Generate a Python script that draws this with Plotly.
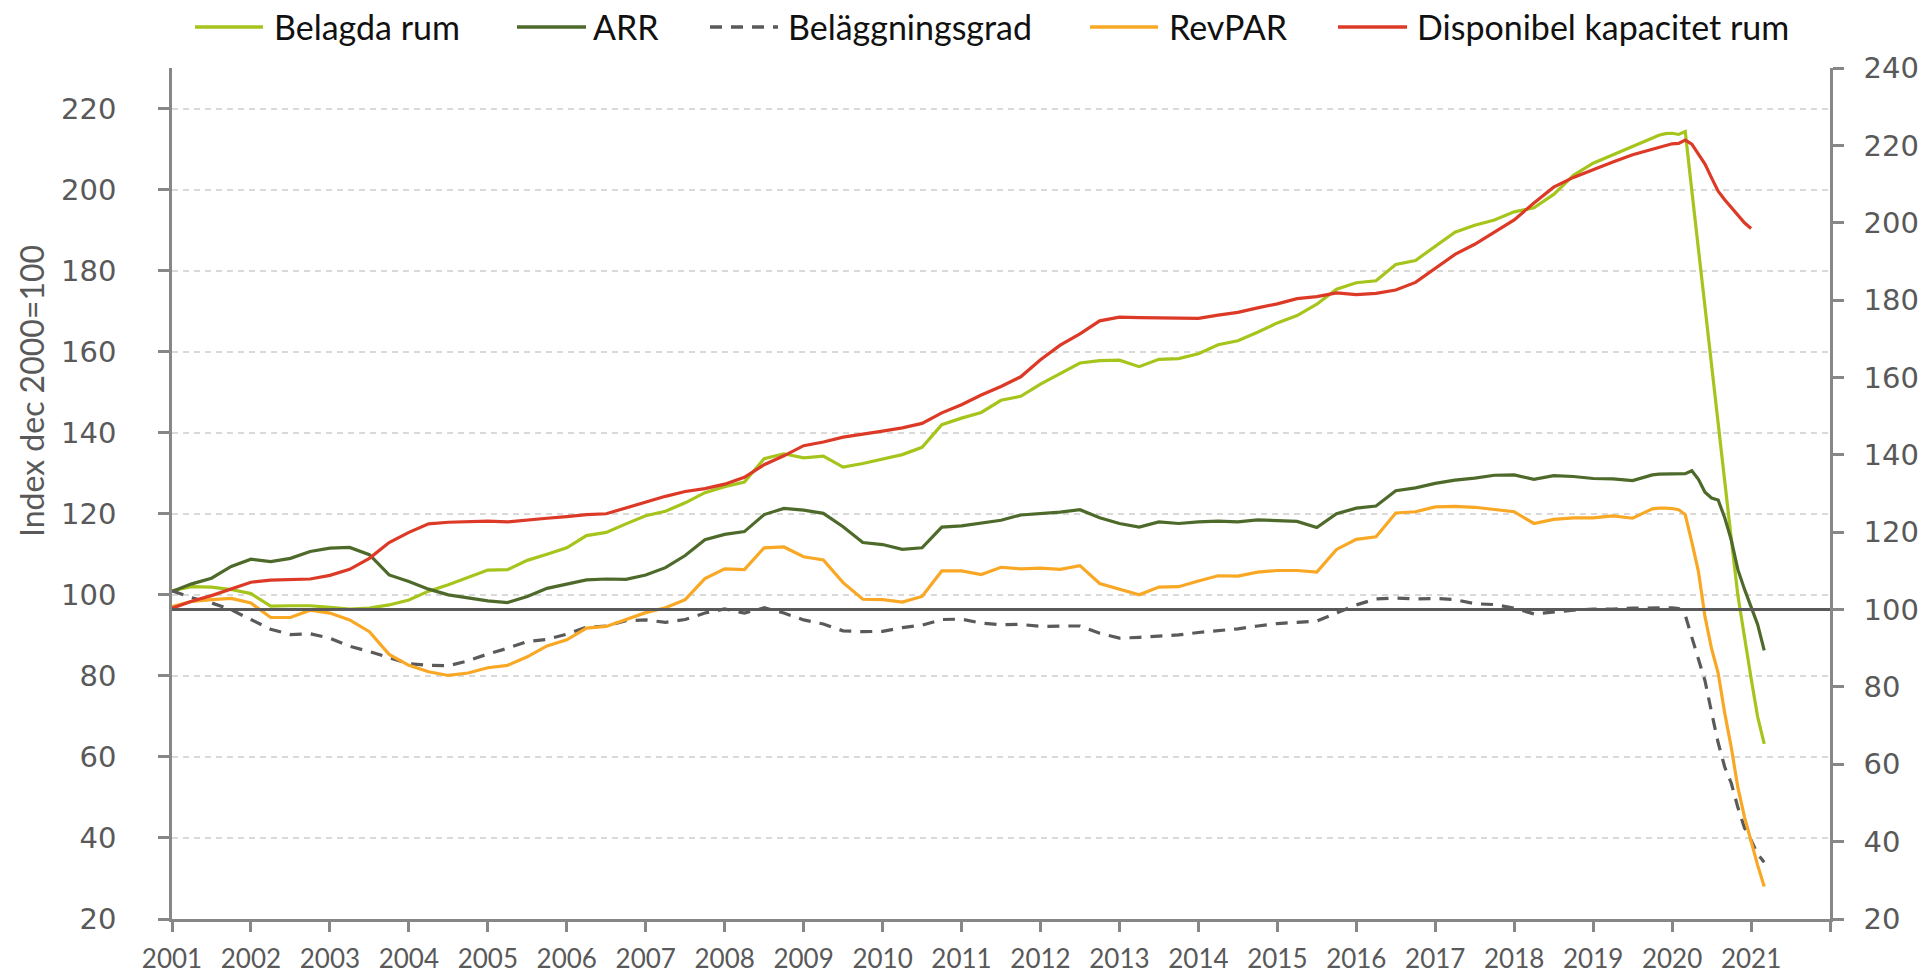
import plotly.graph_objects as go

# ---------------- data (index dec 2000 = 100) ----------------
months = [f"{y}-{m:02d}" for y in range(2001, 2020) for m in (1, 4, 7, 10)] + [
    "2019-11", "2019-12", "2020-01", "2020-02", "2020-03", "2020-04", "2020-05",
    "2020-06", "2020-07", "2020-08", "2020-09", "2020-10", "2020-11", "2020-12",
    "2021-01", "2021-02", "2021-03"]

belagda_rum = [
    101.0, 102.0, 101.9, 101.3, 100.3, 97.2, 97.3, 97.3, 96.9, 96.5, 96.7, 97.5,
    98.7, 100.9, 102.5, 104.4, 106.1, 106.2, 108.5, 110.0, 111.6, 114.6, 115.4, 117.5,
    119.5, 120.6, 122.7, 125.2, 126.7, 127.8, 133.6, 134.8, 133.8, 134.2, 131.5, 132.4,
    133.5, 134.6, 136.4, 142.0, 143.6, 145.0, 148.0, 149.0, 152.0, 154.5, 157.2, 157.8,
    157.9, 156.3, 158.1, 158.3, 159.5, 161.7, 162.7, 164.8, 167.1, 168.9, 171.7, 175.4,
    177.0, 177.5, 181.5, 182.5, 186.0, 189.5, 191.2, 192.5, 194.5, 195.5, 198.8, 203.5,
    206.5, 208.6, 210.6, 212.7,
    213.4, 213.8, 213.9, 213.6, 214.3, 199.7, 185.1, 171.2, 156.6, 142.0, 127.5, 113.7,
    99.8, 89.3, 79.5, 69.9, 63.2]

arr = [
    100.8, 102.7, 104.1, 107.0, 108.8, 108.2, 109.0, 110.7, 111.5, 111.7, 109.9, 104.9,
    103.3, 101.4, 100.0, 99.2, 98.5, 98.1, 99.6, 101.6, 102.7, 103.7, 103.9, 103.8,
    104.9, 106.7, 109.7, 113.6, 114.9, 115.6, 119.8, 121.3, 120.9, 120.1, 116.8, 112.9,
    112.4, 111.2, 111.6, 116.7, 117.0, 117.7, 118.4, 119.7, 120.0, 120.4, 121.0, 119.0,
    117.6, 116.7, 118.0, 117.6, 118.0, 118.2, 118.0, 118.5, 118.3, 118.1, 116.6, 120.0,
    121.4, 121.9, 125.7, 126.4, 127.5, 128.3, 128.8, 129.5, 129.6, 128.5, 129.4, 129.2,
    128.7, 128.6, 128.2, 129.6,
    129.8, 129.8, 129.8, 129.8, 129.9, 130.6, 128.5, 125.3, 123.9, 123.4, 119.0, 113.5,
    106.2, 101.4, 97.2, 92.7, 86.3]

belaggningsgrad = [
    101.0, 99.3, 98.0, 96.3, 93.9, 91.5, 90.2, 90.4, 89.3, 87.3, 86.0, 84.5,
    83.0, 82.6, 82.5, 83.7, 85.4, 86.8, 88.5, 89.0, 90.3, 92.0, 92.3, 93.6,
    93.8, 93.2, 93.9, 95.5, 96.5, 95.5, 96.8, 95.5, 93.8, 92.8, 91.1, 90.9,
    91.0, 91.9, 92.5, 93.9, 94.0, 93.0, 92.6, 92.7, 92.2, 92.3, 92.3, 90.5,
    89.3, 89.5, 89.8, 90.1, 90.7, 91.2, 91.6, 92.3, 92.9, 93.2, 93.5, 95.5,
    97.5, 99.0, 99.2, 99.0, 99.1, 98.8, 97.8, 97.6, 96.7, 95.3, 95.8, 96.2,
    96.5, 96.5, 96.7, 96.8,
    96.8, 96.8, 96.8, 96.6, 95.0, 89.5, 84.0, 78.8, 71.0, 63.5, 57.5, 53.5,
    47.5, 42.5, 39.5, 36.0, 34.0]

revpar = [
    97.1, 98.4, 98.8, 99.1, 98.0, 94.4, 94.4, 96.2, 95.5, 93.8, 90.9, 85.3,
    82.6, 81.0, 80.1, 80.7, 82.0, 82.6, 84.7, 87.4, 88.9, 91.8, 92.2, 94.0,
    95.6, 96.8, 98.8, 104.0, 106.4, 106.2, 111.6, 111.8, 109.4, 108.6, 103.0, 98.9,
    98.8, 98.2, 99.6, 105.9, 105.9, 105.0, 106.8, 106.4, 106.6, 106.3, 107.2, 102.8,
    101.4, 100.0, 101.9, 102.0, 103.4, 104.7, 104.6, 105.6, 106.0, 106.0, 105.6, 111.2,
    113.7, 114.3, 120.2, 120.5, 121.7, 121.8, 121.6, 121.0, 120.5, 117.6, 118.6, 119.0,
    119.0, 119.5, 118.9, 121.2,
    121.4, 121.4, 121.3, 121.0, 119.8, 113.0, 105.8, 94.6, 86.7, 80.7, 70.8, 62.3,
    52.4, 45.2, 39.2, 33.3, 28.0]

disponibel_kapacitet = [
    96.7, 98.4, 99.8, 101.4, 103.1, 103.6, 103.8, 103.9, 104.8, 106.3, 109.0, 112.9,
    115.4, 117.5, 117.9, 118.1, 118.2, 118.0, 118.5, 118.9, 119.3, 119.8, 120.0, 121.5,
    122.8, 124.3, 125.5, 126.2, 127.3, 129.0, 132.1, 134.3, 136.8, 137.7, 138.9, 139.6,
    140.4, 141.2, 142.3, 144.9, 146.9, 149.3, 151.4, 153.8, 158.0, 161.6, 164.4, 167.6,
    168.5, 168.4, 168.3, 168.2, 168.2, 169.0, 169.7, 170.8, 171.8, 173.1, 173.6, 174.5,
    174.1, 174.4, 175.2, 177.1, 180.5, 184.0, 186.5, 189.5, 192.5, 196.7, 200.6, 203.0,
    205.0, 206.8, 208.6, 210.0,
    210.5, 211.0, 211.3, 211.4, 212.2, 211.2, 208.9, 206.3, 202.9, 199.6, 197.5, 195.6,
    193.6, 191.8, 190.4, None, None]

reference_level = [100, 100]          # right-axis reference line
year_ticks = list(range(2001, 2023))
year_labels = [str(y) for y in range(2001, 2022)] + [""]
left_ticks = list(range(20, 221, 20))
right_ticks = list(range(20, 241, 20))

series_names = ["Belagda rum", "ARR", "Beläggningsgrad", "RevPAR", "Disponibel kapacitet rum"]
series_values = [belagda_rum, arr, belaggningsgrad, revpar, disponibel_kapacitet]

# ---------------- styling ----------------
colors = ["#A5C51C", "#4E6A2B", "#5A5A5A", "#F9A825", "#DC3A27"]
dashes = ["solid", "solid", "12px,9px", "solid", "solid"]
AXIS_COL = "#878787"
TXT_COL = "#595959"
CAL = "Lato, Roboto, sans-serif"
NUM = "DejaVu Sans, Verdana, sans-serif"

W, H = 1931, 976
ML, MR, MT, MB = 172, 101, 68, 57
PW, PH = W - ML - MR, H - MT - MB


def px_x(p):
    return (p - ML) / PW


def px_y(p):
    return (H - MB - p) / PH


xs = [int(m[:4]) + (int(m[5:]) - 1) / 12 for m in months]

fig = go.Figure()
for name, vals, col, dash in zip(series_names, series_values, colors, dashes):
    fig.add_trace(go.Scatter(x=xs, y=vals, mode="lines", name=name,
                             line=dict(color=col, width=3.2, dash=dash),
                             showlegend=False, yaxis="y"))

fig.add_trace(go.Scatter(x=[year_ticks[0], year_ticks[-1]], y=reference_level, mode="lines",
                         line=dict(color="#595959", width=3), showlegend=False,
                         yaxis="y2", hoverinfo="skip"))

# ---------------- legend (drawn like the original) ----------------
leg_y = 27
leg_lines = [(195, 263), (517, 586), (710, 778), (1090, 1158), (1338, 1407)]
leg_text_x = [272, 591, 786, 1167, 1415]
shapes = []
annotations = []
for (x0, x1), tx, name, col, dash in zip(leg_lines, leg_text_x, series_names, colors, dashes):
    shapes.append(dict(type="line", xref="paper", yref="paper",
                       x0=px_x(x0), x1=px_x(x1), y0=px_y(leg_y), y1=px_y(leg_y),
                       line=dict(color=col, width=3.5, dash=dash)))
    annotations.append(dict(text=name, xref="paper", yref="paper", x=px_x(tx), y=px_y(leg_y),
                            xanchor="left", yanchor="middle", showarrow=False,
                            font=dict(family=CAL, size=34, color="#111111")))

annotations.append(dict(text="Index dec 2000=100", xref="paper", yref="paper",
                        x=px_x(31), y=px_y(391), textangle=-90, showarrow=False,
                        xanchor="center", yanchor="middle",
                        font=dict(family=CAL, size=32, color=TXT_COL)))

fig.update_layout(
    width=W, height=H, autosize=False,
    margin=dict(l=ML, r=MR, t=MT, b=MB, pad=0, autoexpand=False),
    paper_bgcolor="white", plot_bgcolor="white",
    showlegend=False,
    shapes=shapes, annotations=annotations,
    xaxis=dict(range=[2001, 2022], tickmode="array", tickvals=year_ticks, ticktext=year_labels,
               showline=True, linecolor=AXIS_COL, linewidth=2.5, ticks="outside", ticklen=10,
               tickwidth=2.5, tickcolor=AXIS_COL, showgrid=False, zeroline=False, automargin=False,
               tickfont=dict(family=CAL, size=26, color=TXT_COL), ticklabelstandoff=5),
    yaxis=dict(range=[20, 230], tickmode="array", tickvals=left_ticks, automargin=False,
               showline=True, linecolor=AXIS_COL, linewidth=2.5, ticks="outside", ticklen=11,
               tickwidth=2.5, tickcolor=AXIS_COL, showgrid=True, gridcolor="#D9D9D9",
               gridwidth=1.5, griddash="6px,5px", zeroline=False,
               tickfont=dict(family=NUM, size=29, color=TXT_COL), ticklabelstandoff=36),
    yaxis2=dict(range=[20, 240], tickmode="array", tickvals=right_ticks, overlaying="y",
                side="right", showline=True, linecolor=AXIS_COL, linewidth=2.5, ticks="outside",
                ticklen=11, tickwidth=2.5, tickcolor=AXIS_COL, showgrid=False, zeroline=False,
                automargin=False,
                tickfont=dict(family=NUM, size=29, color=TXT_COL), ticklabelstandoff=14),
)

fig.write_html("out.html", config={"displayModeBar": False},
               post_script="document.body.style.margin='0';document.body.style.overflow='hidden';")
